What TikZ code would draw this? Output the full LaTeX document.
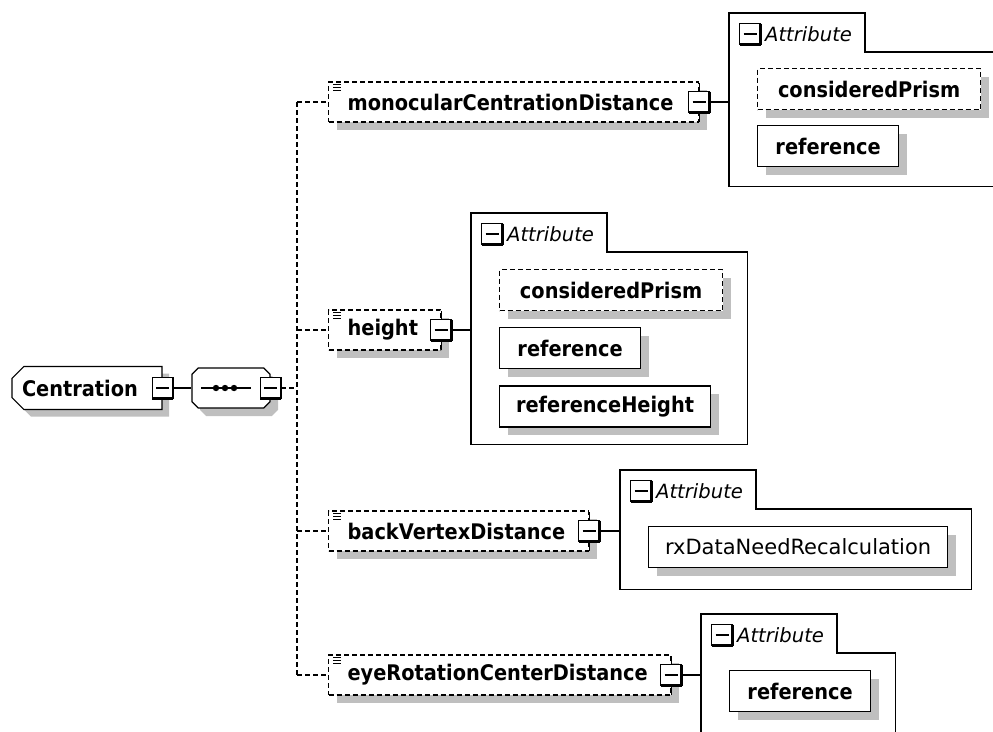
\documentclass[tikz,border=0pt]{standalone}
\usepackage{fontspec}
\newfontfamily\xsdfont{DejaVu Sans}
\newfontfamily\xsdnarrow[FakeStretch=0.9]{DejaVu Sans}
\usetikzlibrary{positioning, shapes.misc, shadows}

\tikzset{
    optdash/.style={dash pattern=on 5pt off 3pt},
    shade/.style={drop shadow={shadow xshift=8pt, shadow yshift=-8pt, fill=black!25, opacity=1}},
    lbl/.style={font=\xsdnarrow\bfseries\fontsize{21.5}{24}\selectfont},
    root/.style={chamfered rectangle, chamfered rectangle corners={north west, south west},
        chamfered rectangle xsep=9pt, draw, fill=white, lbl, minimum width=150, minimum height=43,
        text width=130, align=left, inner xsep=1,
        drop shadow={shadow xshift=7pt, shadow yshift=-7pt, fill=black!25, opacity=1}},
    seqbox/.style={chamfered rectangle, chamfered rectangle xsep=11pt, draw, fill=white,
        minimum width=78, minimum height=40, shade},
    elem/.style={draw, fill=white, optdash, shade, lbl, anchor=west, minimum height=40,
        inner xsep=19, inner ysep=0, align=left},
    attgrp/.style={anchor=north west, inner sep=0, minimum height=0},
    attr/.style={draw, fill=white, shade, lbl, anchor=north west, minimum height=41, inner sep=0},
    attlbl/.style={font=\xsdfont\itshape\fontsize{19.6}{22}\selectfont, inner sep=0},
    pm/.style={draw, fill=white, minimum size=21, inner sep=0, outer sep=0,
        path picture={\draw ([xshift=4pt]path picture bounding box.west) -- ([xshift=-4pt]path picture bounding box.east);},
        append after command={\pgfextra{\let\pmnode\tikzlastnode}
            (\pmnode.north east) edge[line width=2.6pt] (\pmnode.south east)
            (\pmnode.south east) edge[line width=2.6pt] (\pmnode.south west)}},
    pmel/.style={pm, append after command={\pgfextra{\let\pmnode\tikzlastnode}
            (\pmnode.north) edge ([yshift=9pt]\pmnode.north)
            (\pmnode.south) edge ([yshift=-9pt]\pmnode.south)}}
}

\begin{document}
\begin{tikzpicture}[x=1pt, y=-1pt, line width=1.2pt]
    \useasboundingbox (0,0) rectangle (993,731);
    \clip (0,0) rectangle (993,731);

    % root element and sequence
    \node[root] (cent) at (87,388) {Centration};
    \node[pm] (cent-pm) at (cent.east) {};
    \node[seqbox] (seq) at (231,388) {};
    \node[pm] (seq-pm) at (seq.east) {};
    \draw (cent-pm) -- (seq);
    \draw ([xshift=10pt]seq.west) -- ([xshift=-20pt]seq.east);
    \foreach \x in {216,225,234}
        \fill (\x,388) circle (3.2);
    \coordinate (bus) at (297,388);
    \draw[optdash] (seq-pm) -- (bus);

    % child elements
    \node[elem, text width=332] (mono) at (328,102) {monocularCentrationDistance};
    \node[elem, text width=74] (hgt) at (328,330) {height};
    \node[elem, text width=222] (backvd) at (328,531) {backVertexDistance};
    \node[elem, text width=304] (eyerc) at (328,675) {eyeRotationCenterDistance};

    \draw[optdash] (bus |- mono.west) -- (bus |- eyerc.west);
    \foreach \e in {mono,hgt,backvd,eyerc} {
        \draw[optdash] (bus |- \e.west) -- (\e.west);
        \foreach \i in {3,6,9}
            \draw[line width=0.8pt] ([shift={(5,\i)}]\e.north west) -- ++(8,0);
        \node[pmel] (\e-pm) at (\e.east) {};
    }

    % attribute groups
    \node[attgrp, minimum width=280, minimum height=172] (monoatt) at (729,13) {};
    \node[attgrp, minimum width=275, minimum height=230] (hgtatt) at (471,213) {};
    \node[attgrp, minimum width=350, minimum height=118] (backvdatt) at (620,470) {};
    \node[attgrp, minimum width=193, minimum height=135] (eyercatt) at (701,614) {};
    \foreach \g in {mono,hgt,backvd,eyerc} {
        \draw (\g att.north west) -| ++(136,39) -| (\g att.south east) -- (\g att.south west) -- cycle;
        \node[pm] (\g att-pm) at ([shift={(21,21)}]\g att.north west) {};
        \node[attlbl, right=4pt of \g att-pm] (\g att-lbl) {Attribute};
        \draw (\g-pm) -- (\g-pm -| \g att.west);
    }

    % attributes
    \node[attr, optdash, minimum width=223] (mono-cp) at ([shift={(28,55)}]monoatt.north west) {consideredPrism};
    \node[attr, minimum width=141, below=15pt of mono-cp.south west, anchor=north west] (mono-ref) {reference};

    \node[attr, optdash, minimum width=223] (hgt-cp) at ([shift={(28,56)}]hgtatt.north west) {consideredPrism};
    \node[attr, minimum width=141, below=16pt of hgt-cp.south west, anchor=north west] (hgt-ref) {reference};
    \node[attr, minimum width=211, below=16pt of hgt-ref.south west, anchor=north west] (hgt-refh) {referenceHeight};

    \node[attr, minimum width=299, font=\xsdfont\fontsize{21}{24}\selectfont] (backvd-rx) at ([shift={(28,56)}]backvdatt.north west) {rxDataNeedRecalculation};

    \node[attr, minimum width=141] (eyerc-ref) at ([shift={(28,56)}]eyercatt.north west) {reference};
\end{tikzpicture}
\end{document}
